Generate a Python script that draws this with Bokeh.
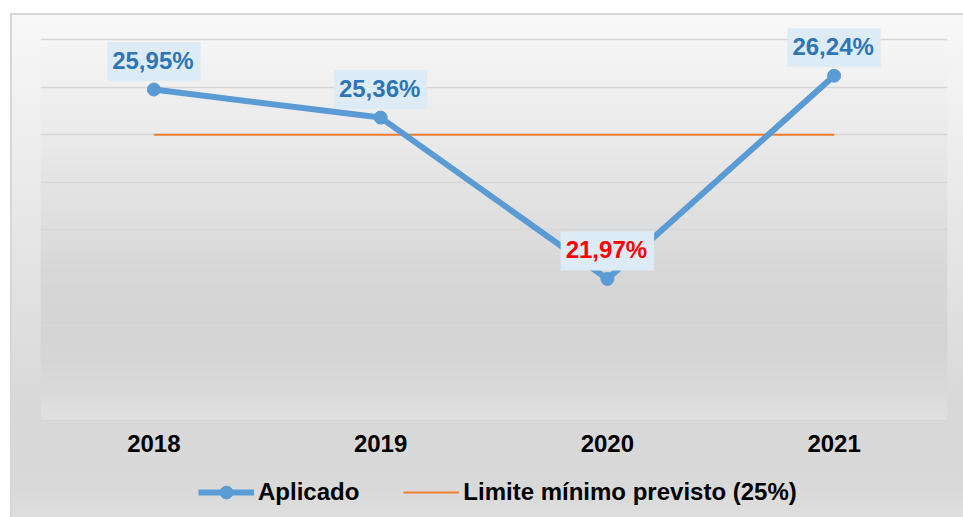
import numpy as np
from bokeh.plotting import figure
from bokeh.models import (ColumnDataSource, FixedTicker, Legend, LegendItem,
                          Range1d)
from bokeh.core.properties import value
from bokeh.embed import file_html
from bokeh.resources import INLINE

# ---- data ----
years = ["2018", "2019", "2020", "2021"]
aplicado = [25.95, 25.36, 21.97, 26.24]
labels = ["25,95%", "25,36%", "21,97%", "26,24%"]
label_colors = ["#2E75B6", "#2E75B6", "#FF0000", "#2E75B6"]
limite = 25.0
y_ticks = [19, 20, 21, 22, 23, 24, 25, 26, 27]
y_min, y_max = 19, 27

xpos = [i + 0.5 for i in range(len(years))]

FONT = "Liberation Sans"

# frame extended above and below the value area so labels/legend are not clipped
p = figure(width=963, height=517, output_backend="svg", toolbar_location=None,
           x_range=Range1d(0, len(years)), y_range=Range1d(17.0, y_max + 0.4),
           min_border_left=40, min_border_top=20, min_border_right=16,
           min_border_bottom=2)
p.border_fill_color = None
p.outline_line_color = None
p.background_fill_color = None
p.styles = {
    "background-image": (
        "linear-gradient(to bottom, #ffffff 0px, #ffffff 13px, transparent 13px),"
        "linear-gradient(to right, #ffffff 0px, #ffffff 10px, #d6d6d6 10px, #d6d6d6 12px, transparent 12px),"
        "linear-gradient(to bottom, #d6d6d6 13px, #d6d6d6 15px, #f8f8f8 15px, #e6e6e6 45%, #d8d8d8 80%, #d9d9d9 94%, #dedede 100%)"
    )
}

# plot-area gradient (decoration)
stops_f = [0.0, 0.35, 0.6, 0.78, 0.92, 1.0]
stops_c = [0xf6, 0xe6, 0xd8, 0xd4, 0xda, 0xe1]
n = 400
fr = np.linspace(1, 0, n)  # row 0 is bottom
g = np.interp(fr, stops_f, stops_c).astype(np.uint32)
img = np.empty((n, 1), dtype=np.uint32)
img[:, 0] = (255 << 24) | (g << 16) | (g << 8) | g
p.image_rgba(image=[img], x=0, y=y_min, dw=len(years), dh=y_max - y_min,
             level="image")

# axes
p.yaxis.visible = False
p.yaxis.ticker = FixedTicker(ticks=y_ticks)
p.ygrid.ticker = FixedTicker(ticks=y_ticks)
p.ygrid.grid_line_color = "#d6d6d6"
p.ygrid.grid_line_width = 1.5
p.xgrid.grid_line_color = None

xa = p.xaxis[0]
xa.fixed_location = y_min
xa.ticker = FixedTicker(ticks=xpos)
xa.major_label_overrides = {x: y for x, y in zip(xpos, years)}
xa.axis_line_color = None
xa.major_tick_line_color = None
xa.minor_tick_line_color = None
xa.major_tick_out = 0
xa.major_tick_in = 0
xa.major_label_standoff = 15
xa.major_label_text_font = FONT
xa.major_label_text_font_style = "bold"
xa.major_label_text_font_size = "24px"
xa.major_label_text_color = "#000000"

src = ColumnDataSource(dict(x=xpos, y=aplicado, lab=labels, col=label_colors))

lim = p.line(x=[xpos[0], xpos[-1]], y=[limite, limite], line_color="#ED7D31",
             line_width=2)
ln = p.line("x", "y", source=src, line_color="#5B9BD5", line_width=6)
sc = p.scatter("x", "y", source=src, size=13, fill_color="#5B9BD5",
               line_color="#5B9BD5")

# data labels with boxes
p.text(x="x", y="y", text="lab", source=src, y_offset=-28,
       text_align="center", text_baseline="middle",
       text_font=value(FONT), text_font_style="bold", text_font_size="24px",
       text_color="col",
       background_fill_color="#DDEBF7", background_fill_alpha=1.0,
       padding=[5, 7, 5, 7])

legend = Legend(items=[LegendItem(label="Aplicado", renderers=[ln, sc]),
                       LegendItem(label="Limite mínimo previsto (25%)", renderers=[lim])],
                orientation="horizontal", location=(158, 7),
                glyph_width=56, glyph_height=32, label_standoff=4, spacing=44,
                padding=0, margin=0, border_line_color=None,
                background_fill_alpha=0,
                label_text_font=FONT, label_text_font_style="bold",
                label_text_font_size="24px", label_text_color="#000000")
p.add_layout(legend, "center")

open("out.html", "w").write(file_html(p, INLINE))
